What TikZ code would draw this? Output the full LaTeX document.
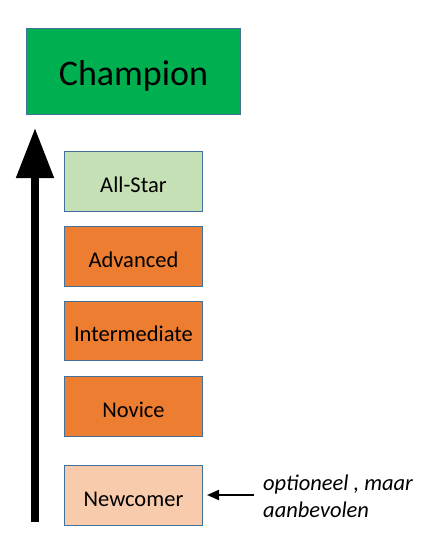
\documentclass[tikz,border=0pt]{standalone}
\usepackage{fontspec}
\setmainfont{Carlito}
\usetikzlibrary{arrows.meta}
\definecolor{champ}{HTML}{00B050}
\definecolor{allstar}{HTML}{C5E0B4}
\definecolor{orng}{HTML}{ED7D31}
\definecolor{newc}{HTML}{F8CBAD}
\definecolor{bord}{HTML}{41719C}
\begin{document}
\begin{tikzpicture}[x=1pt,y=-1pt,
  lvl/.style={draw=bord,line width=0.9pt,minimum width=138pt,minimum height=60pt,inner sep=0pt,font=\fontsize{22.5}{24}\selectfont,text height=22pt,text depth=0pt,anchor=north west}]
\useasboundingbox[fill=white] (0,0) rectangle (431,548);
\node[lvl,fill=champ,minimum width=214pt,minimum height=86pt,font=\fontsize{36}{40}\selectfont,text height=29pt] (champ) at (26,28) {Champion};
\node[lvl,fill=allstar] (allstar) at (64,151) {All-Star};
\node[lvl,fill=orng] (adv) at (64,226) {Advanced};
\node[lvl,fill=orng,minimum height=59pt] (inter) at (64,301) {Intermediate};
\node[lvl,fill=orng] (nov) at (64,376) {Novice};
\node[lvl,fill=newc] (newc) at (64,465) {Newcomer};
\coordinate (abot) at (35,522);
\coordinate (atop) at (35,128);
\draw[line width=8pt,-{Triangle[width=36pt,length=50pt]}] (abot) -- (atop);
\node[anchor=west,align=left,font=\fontsize{22.5}{27}\selectfont\itshape,inner sep=0pt] (note) at (263,496) {optioneel , maar\\aanbevolen};
\coordinate (nstart) at (254,495);
\coordinate (ntip) at (207,495);
\draw[line width=2pt,-{Triangle[width=10pt,length=12pt]}] (nstart) -- (ntip);
\end{tikzpicture}
\end{document}
